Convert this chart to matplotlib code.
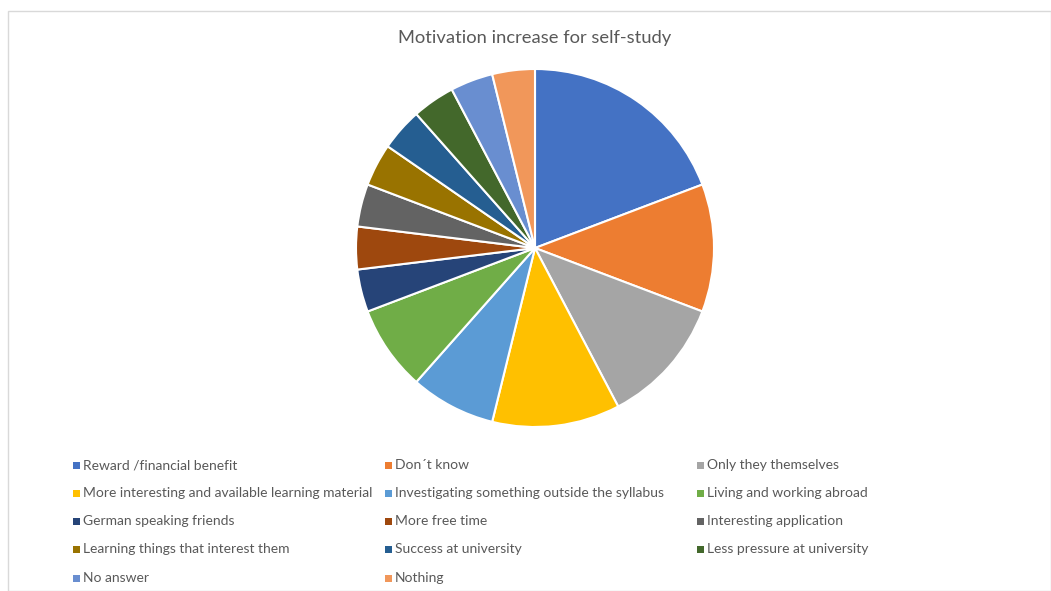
import matplotlib.pyplot as plt
from matplotlib.patches import Rectangle

labels = [
    'Reward /financial benefit',
    'Don´t know',
    'Only they themselves',
    'More interesting and available learning material',
    'Investigating something outside the syllabus',
    'Living and working abroad',
    'German speaking friends',
    'More free time',
    'Interesting application',
    'Learning things that interest them',
    'Success at university',
    'Less pressure at university',
    'No answer',
    'Nothing',
]
values = [5, 3, 3, 3, 2, 2, 1, 1, 1, 1, 1, 1, 1, 1]
colors = [
    '#4472C4', '#ED7D31', '#A5A5A5', '#FFC000', '#5B9BD5', '#70AD47',
    '#264478', '#9E480E', '#636363', '#997300', '#255E91', '#43682B',
    '#698ED0', '#F1975A',
]

plt.rcParams['font.family'] = ['Lato', 'DejaVu Sans']

W, H = 1051, 591
fig = plt.figure(figsize=(W / 100, H / 100), dpi=100)

# chart frame
fig.patches.append(Rectangle((8 / W, 0), 1 - 8 / W, 1 - 11 / H,
                             transform=fig.transFigure, fill=False,
                             edgecolor='#D9D9D9', linewidth=1))

# pie
cx, cy, r = 535, 248, 179
ax = fig.add_axes([(cx - r) / W, (H - cy - r) / H, 2 * r / W, 2 * r / H])
ax.pie(values, colors=colors, startangle=90, counterclock=False,
       wedgeprops=dict(edgecolor='white', linewidth=1.5))
ax.set_xlim(-1, 1)
ax.set_ylim(-1, 1)
ax.set_aspect('equal')
ax.axis('off')

fig.text(cx / W, 1 - 38 / H, 'Motivation increase for self-study',
         ha='center', va='center', fontsize=13.2, color='#595959')

# legend, 3 columns, row by row
col_x = [76, 388, 700]
row_y = [465, 493, 521, 549, 578]
for i, (lab, col) in enumerate(zip(labels, colors)):
    mx = col_x[i % 3]
    my = row_y[i // 3]
    fig.patches.append(Rectangle(((mx - 3.5) / W, 1 - (my + 3.5) / H), 7 / W, 7 / H,
                                 transform=fig.transFigure, facecolor=col,
                                 edgecolor='none'))
    fig.text((mx + 7) / W, 1 - my / H, lab, ha='left', va='center',
             fontsize=10, color='#595959')

fig.savefig('out.png', dpi=100)
